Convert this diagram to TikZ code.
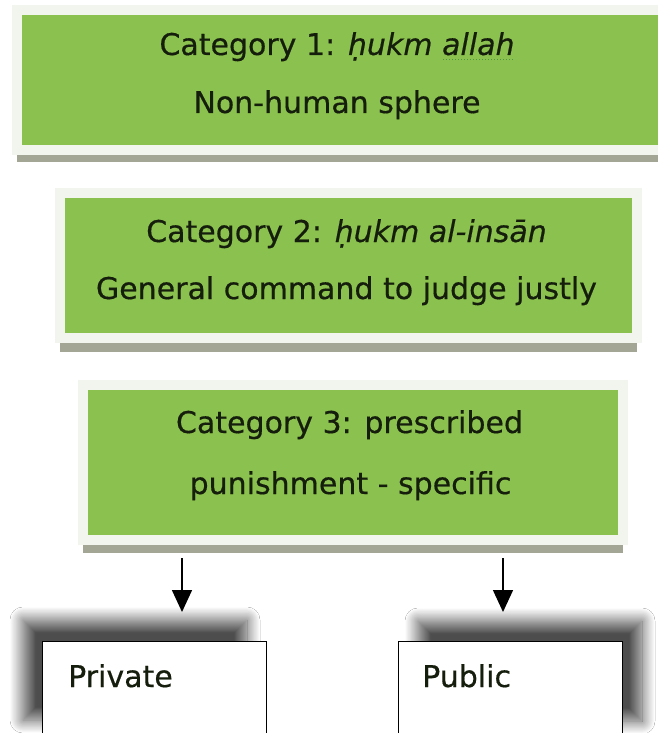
\documentclass[tikz,border=0pt]{standalone}
\usepackage{fontspec}
\setmainfont[FakeBold=0.5]{DejaVu Sans}
\usetikzlibrary{shadows,shadows.blur,arrows.meta}

\definecolor{catgreen}{RGB}{139,193,78}
\definecolor{catframe}{RGB}{242,245,237}
\definecolor{catbar}{RGB}{163,166,148}
\definecolor{squiggle}{RGB}{80,150,60}

\newsavebox{\squigbox}
\newcommand{\squig}[1]{\sbox{\squigbox}{#1}\rlap{\usebox{\squigbox}}%
  \raisebox{-5pt}{\textcolor{squiggle}{\hbox to \wd\squigbox{%
  \leaders\hbox to 3pt{\hss\rule{1.4pt}{1.4pt}\hss}\hfill}}}}

\begin{document}
\begin{tikzpicture}[x=1pt,y=-1pt]
      % Define styles for nodes
      \tikzstyle{catbox} = [rectangle, draw=catframe, fill=catgreen,
      line width=10pt, inner sep=0pt]
      \tikzstyle{cattext} = [anchor=base, inner sep=0pt,
      font=\fontsize{30}{36}\selectfont, text=black!85!catgreen]
      \tikzstyle{kindbox} = [rectangle, draw, thick, fill=white,
      minimum width=224pt, minimum height=100pt]
      \tikzstyle{arrowdown} = [line width=1.5pt,
      -{Triangle[width=20pt,length=22pt]}]

      % Page
      \fill[white] (0,0) rectangle (658,733);
      \useasboundingbox (0,0) rectangle (658,733);

      % Green category boxes
      \node[catbox, minimum width=663.5pt, minimum height=140pt,
      drop shadow={shadow xshift=0pt, shadow yshift=-12pt, fill=catbar,
      opacity=1}] (cat1) at (348.25,80) {};
      \node[catbox, minimum width=577pt, minimum height=145pt,
      drop shadow={shadow xshift=0pt, shadow yshift=-14pt, fill=catbar,
      opacity=1}] (cat2) at (348.5,265.5) {};
      \node[catbox, minimum width=540pt, minimum height=155.5pt,
      drop shadow={shadow xshift=0pt, shadow yshift=-13pt, fill=catbar,
      opacity=1}] (cat3) at (352.5,462.25) {};

      % Texts in the boxes
      \node[cattext] (cat1a) at (337,55) {Category 1: \textit{ḥukm \squig{allah}}};
      \node[cattext] (cat1b) at (337,113) {Non-human sphere};
      \node[cattext] (cat2a) at (346.5,242) {Category 2: \textit{ḥukm al-insān}};
      \node[cattext] (cat2b) at (346.5,299) {General command to judge justly};
      \node[cattext] (cat3a) at (349.5,433) {Category 3: prescribed};
      \node[cattext] (cat3b) at (350.5,494) {punishment - specific};

      % Private and public boxes
      \node[kindbox, blur shadow={shadow xshift=-19pt, shadow yshift=21pt,
      shadow blur radius=13pt, shadow blur steps=25,
      shadow opacity=70}] (private) at (154,691) {};
      \node[kindbox, blur shadow={shadow xshift=20pt, shadow yshift=20pt,
      shadow blur radius=13pt, shadow blur steps=25,
      shadow opacity=70}] (public) at (510,691) {};
      \node[cattext, anchor=base west] (privatetxt) at (68,687) {Private};
      \node[cattext, anchor=base west] (publictxt) at (422,687) {Public};

      % Arrows
      \coordinate (privfrom) at (182,558);
      \coordinate (privto) at (182,612);
      \coordinate (pubfrom) at (503,558);
      \coordinate (pubto) at (503,612);
      \draw[arrowdown] (privfrom) -- (privto);
      \draw[arrowdown] (pubfrom) -- (pubto);

    \end{tikzpicture}
\end{document}
